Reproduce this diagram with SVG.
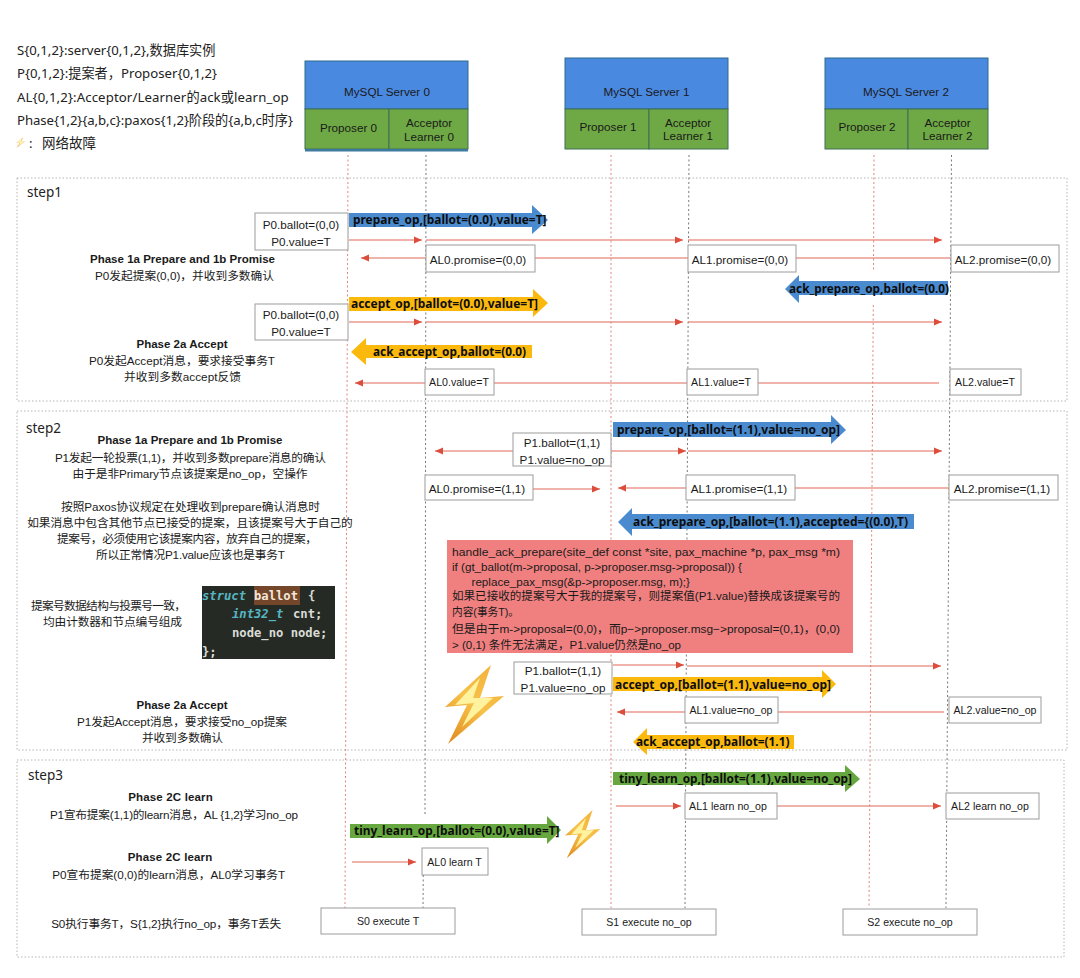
<svg xmlns="http://www.w3.org/2000/svg" width="1080" height="978" viewBox="0 0 1080 978">
<style>
text{font-family:"Liberation Sans","Noto Sans CJK SC",sans-serif;fill:#1a1a1a;font-size:11.7px;dominant-baseline:central}
.m{text-anchor:middle}
.leg{font-family:"Noto Sans","Noto Sans CJK SC",sans-serif;font-size:13.2px;fill:#222}
.step{font-family:"Noto Sans","Noto Sans CJK SC",sans-serif;font-size:13.5px;fill:#222}
.b{font-weight:bold;font-size:11.5px}
.lb{font-family:"Noto Sans","Noto Sans CJK SC",sans-serif;font-weight:bold;font-size:12.8px;fill:#0d0d0d}
.nt{font-size:10.6px}
.hd{fill:#4a89e0;stroke:#2c6a8e;stroke-width:1}
.gr{fill:#6fa945;stroke:#3f6f57;stroke-width:1}
.box{fill:#fff;stroke:#9c9c9c;stroke-width:1}
.frame{fill:none;stroke:#b4b4b4;stroke-width:1;stroke-dasharray:1.5 2}
.lp{stroke:#e0857a;stroke-width:1;stroke-dasharray:2 2.5;fill:none}
.la{stroke:#777;stroke-width:1;stroke-dasharray:2 2.5;fill:none}
.msg{stroke:#e0695a;stroke-width:1.2;fill:none}
.ar{marker-end:url(#tip)}
.blue{fill:#4a8bd0}.gold{fill:#fbb80d}.green{fill:#66a73f}
.code{font-family:"DejaVu Sans Mono",monospace;font-weight:bold;font-size:12.2px;fill:#d9dcd6;dominant-baseline:central}
</style>
<defs>
<marker id="tip" markerUnits="userSpaceOnUse" markerWidth="9" markerHeight="8" refX="8" refY="4" orient="auto"><path d="M0 0.5L8 4L0 7.5Z" fill="#dd4d3c"/></marker>
<linearGradient id="bg" x1="0.8" y1="0" x2="0.2" y2="1"><stop offset="0" stop-color="#f3b23a"/><stop offset="0.5" stop-color="#f7c14a"/><stop offset="1" stop-color="#e39022"/></linearGradient>
<g id="bolt"><polygon points="46,0 0,42 22,40 3,79 59,31 35,33" fill="url(#bg)"/><polygon points="35,13 10,40 29,38 17,62 48,33 28,33" fill="#fff3a0"/></g>
</defs>
<rect width="1080" height="978" fill="#fff"/>

<g id="frames">
<rect class="frame" x="17" y="178" width="1050" height="223"/>
<rect class="frame" x="17" y="411" width="1050" height="339"/>
<rect class="frame" x="17" y="760" width="1047" height="197"/>
</g>

<g id="legend">
<text class="leg" x="17" y="50">S{0,1,2}:server{0,1,2},数据库实例</text>
<text class="leg" x="17" y="73">P{0,1,2}:提案者，Proposer{0,1,2}</text>
<text class="leg" x="17" y="97" textLength="271.600">AL{0,1,2}:Acceptor/Learner的ack或learn_op</text>
<text class="leg" x="17" y="120" textLength="276">Phase{1,2}{a,b,c}:paxos{1,2}阶段的{a,b,c时序}</text>
<use href="#bolt" transform="translate(16,137) scale(0.16,0.14)" opacity="0.65"/>
<text class="leg" x="29" y="143">:</text>
<text class="leg" x="42" y="143" style="font-size:13.5px">网络故障</text>
</g>

<g id="lifelines">
<path class="lp" d="M348 155L345 908"/>
<path class="la" d="M426 155L425 814M423.500 848L423 908"/>
<path class="lp" d="M611 155L611 908"/>
<path class="la" d="M689 155L685 908"/>
<path class="lp" d="M874 155L873.500 272M873.300 305L869 908"/>
<path class="la" d="M951.500 155L946 908"/>
</g>

<g id="server0">
<rect class="hd" x="305" y="61" width="163" height="48"/>
<rect class="gr" x="305" y="109" width="84" height="40"/>
<rect class="gr" x="389" y="109" width="79" height="40"/>
<rect x="305" y="149" width="163" height="2.500" fill="#3e7aa0"/>
<text class="m" x="387" y="91">MySQL Server 0</text>
<text class="m" x="348.500" y="127">Proposer 0</text>
<text class="m" x="429" y="122">Acceptor</text>
<text class="m" x="429" y="136">Learner 0</text>
</g>
<g id="server1">
<rect class="hd" x="565" y="58" width="163" height="51"/>
<rect class="gr" x="565" y="109" width="84" height="40"/>
<rect class="gr" x="649" y="109" width="79" height="40"/>
<text class="m" x="646.500" y="91">MySQL Server 1</text>
<text class="m" x="608" y="126">Proposer 1</text>
<text class="m" x="688" y="122">Acceptor</text>
<text class="m" x="688" y="135">Learner 1</text>
</g>
<g id="server2">
<rect class="hd" x="825" y="58" width="163" height="51"/>
<rect class="gr" x="825" y="109" width="83" height="40"/>
<rect class="gr" x="908" y="109" width="80" height="40"/>
<text class="m" x="906" y="91">MySQL Server 2</text>
<text class="m" x="867" y="126">Proposer 2</text>
<text class="m" x="947.500" y="122">Acceptor</text>
<text class="m" x="947.500" y="135">Learner 2</text>
</g>

<g id="notes">
<text class="step" x="27" y="192">step1</text>
<text class="m b" x="182.500" y="259" textLength="185">Phase 1a Prepare and 1b Promise</text>
<text class="m" x="184.500" y="275" textLength="179">P0发起提案(0,0)，并收到多数确认</text>
<text class="m b" x="182" y="344">Phase 2a Accept</text>
<text class="m" x="182" y="360" textLength="186">P0发起Accept消息，要求接受事务T</text>
<text class="m" x="182.500" y="376" textLength="117">并收到多数accept反馈</text>

<text class="step" x="26" y="428">step2</text>
<text class="m b" x="190" y="440" textLength="185">Phase 1a Prepare and 1b Promise</text>
<text class="m" x="190.500" y="457" textLength="271">P1发起一轮投票(1,1)，并收到多数prepare消息的确认</text>
<text class="m" x="190" y="473" textLength="235">由于是非Primary节点该提案是no_op，空操作</text>
<text class="m" x="190.500" y="506" textLength="259">按照Paxos协议规定在处理收到prepare确认消息时</text>
<text class="m" x="190" y="522" textLength="325.500">如果消息中包含其他节点已接受的提案，且该提案号大于自己的</text>
<text class="m" x="187" y="538" textLength="260">提案号，必须使用它该提案内容，放弃自己的提案，</text>
<text class="m" x="190.500" y="554" textLength="189">所以正常情况P1.value应该也是事务T</text>
<text class="m" x="108.500" y="605" textLength="155">提案号数据结构与投票号一致，</text>
<text class="m" x="112.500" y="621" textLength="139">均由计数器和节点编号组成</text>
<text class="m b" x="182" y="705">Phase 2a Accept</text>
<text class="m" x="182" y="721" textLength="210">P1发起Accept消息，要求接受no_op提案</text>
<text class="m" x="182.500" y="737" textLength="81">并收到多数确认</text>

<text class="step" x="28" y="775">step3</text>
<text class="m b" x="170.500" y="797" textLength="84.500">Phase  2C  learn</text>
<text class="m" x="174" y="814" textLength="248">P1宣布提案(1,1)的learn消息，AL {1,2}学习no_op</text>
<text class="m b" x="170" y="857" textLength="84.500">Phase  2C  learn</text>
<text class="m" x="168.700" y="874" textLength="233">P0宣布提案(0,0)的learn消息，AL0学习事务T</text>
<text class="m" x="166.200" y="923" textLength="230">S0执行事务T，S{1,2}执行no_op，事务T丢失</text>
</g>

<g id="connectors">
<path class="msg ar" d="M349 240H422"/><path class="msg ar" d="M426 240H683"/><path class="msg ar" d="M688 240H942"/>
<path class="msg ar" d="M426 258H361"/><path class="msg" d="M535 258H688M796 258H951"/>
<path class="msg ar" d="M349 322H422"/><path class="msg ar" d="M426 322H683"/><path class="msg ar" d="M688 322H942"/>
<path class="msg ar" d="M425 383H355"/><path class="msg" d="M494 383H687M758 383H939"/>
<path class="msg ar" d="M513 451H435"/><path class="msg ar" d="M611 451H686"/><path class="msg ar" d="M688 451H942"/>
<path class="msg ar" d="M533 489H600"/><path class="msg ar" d="M686 488H618"/><path class="msg" d="M795 488H949"/>
<path class="msg ar" d="M613 665H684"/><path class="msg ar" d="M687 666H941"/>
<path class="msg ar" d="M685 712H617"/><path class="msg" d="M778 712H944"/>
<path class="msg ar" d="M616 806H681"/><path class="msg ar" d="M777 806H941"/>
<path class="msg ar" d="M352 862H416"/>
</g>

<g id="prepare0"><polygon class="blue" points="349,213 532,213 532,205 548,220 532,234 532,227 349,227"/><text class="lb" x="353" y="219" textLength="193.500" lengthAdjust="spacingAndGlyphs">prepare_op,[ballot=(0.0),value=T]</text></g>
<g id="ack_prepare0"><polygon class="blue" points="785,289 799,275 799,281 948,281 948,295 799,295 799,303"/><text class="lb" x="789" y="288" textLength="160" lengthAdjust="spacingAndGlyphs">ack_prepare_op,ballot=(0.0)</text></g>
<g id="accept0"><polygon class="gold" points="349,297 533,297 533,289 548,303 533,317 533,311 349,311"/><text class="lb" x="351" y="303" textLength="187" lengthAdjust="spacingAndGlyphs">accept_op,[ballot=(0.0),value=T]</text></g>
<g id="ack_accept0"><polygon class="gold" points="351,352 366,338 366,345 532,345 532,358 366,358 366,365"/><text class="lb" x="373" y="351" textLength="153" lengthAdjust="spacingAndGlyphs">ack_accept_op,ballot=(0.0)</text></g>
<g id="prepare1"><polygon class="blue" points="613,422 831,422 831,415 846,430 831,444 831,437 613,437"/><text class="lb" x="617" y="429" textLength="223" lengthAdjust="spacingAndGlyphs">prepare_op,[ballot=(1.1),value=no_op]</text></g>
<g id="ack_prepare1"><polygon class="blue" points="618,522 632,508 632,514 914,514 914,529 632,529 632,536"/><text class="lb" x="633" y="521" textLength="275" lengthAdjust="spacingAndGlyphs">ack_prepare_op,[ballot=(1.1),accepted={(0.0),T)</text></g>
<g id="accept1"><polygon class="gold" points="613,677 822,677 822,670 836,684 822,698 822,691 613,691"/><text class="lb" x="615" y="684" textLength="216" lengthAdjust="spacingAndGlyphs">accept_op,[ballot=(1.1),value=no_op]</text></g>
<g id="ack_accept1"><polygon class="gold" points="633,742 647,728 647,735 794,735 794,749 647,749 647,755"/><text class="lb" x="636" y="741" textLength="153.500" lengthAdjust="spacingAndGlyphs">ack_accept_op,ballot=(1.1)</text></g>
<g id="learn1"><polygon class="green" points="613,772 845,772 845,765 860,779 845,792 845,785 613,785"/><text class="lb" x="619" y="778" textLength="233" lengthAdjust="spacingAndGlyphs">tiny_learn_op,[ballot=(1.1),value=no_op]</text></g>
<g id="learn0"><polygon class="green" points="350,824 547,824 547,816 561,830 547,844 547,838 350,838"/><text class="lb" x="354" y="830" textLength="205.500" lengthAdjust="spacingAndGlyphs">tiny_learn_op,[ballot=(0.0),value=T]</text></g>

<g id="p0_state1"><rect class="box" x="255" y="213" width="93" height="37"/><text class="m" x="301" y="224">P0.ballot=(0,0)</text><text class="m" x="301" y="241">P0.value=T</text></g>
<g id="al0_promise0"><rect class="box" x="426" y="245" width="109" height="27"/><text class="m" x="478" y="259">AL0.promise=(0,0)</text></g>
<g id="al1_promise0"><rect class="box" x="688" y="245" width="108" height="27"/><text class="m" x="740" y="259">AL1.promise=(0,0)</text></g>
<g id="al2_promise0"><rect class="box" x="951" y="245" width="108" height="27"/><text class="m" x="1003" y="259">AL2.promise=(0,0)</text></g>
<g id="p0_state2"><rect class="box" x="255" y="304" width="93" height="36"/><text class="m" x="301" y="314">P0.ballot=(0,0)</text><text class="m" x="301" y="331">P0.value=T</text></g>
<g id="al0_value"><rect class="box" x="425" y="369" width="69" height="26"/><text class="m nt" x="459" y="382">AL0.value=T</text></g>
<g id="al1_value"><rect class="box" x="687" y="369" width="71" height="26"/><text class="m nt" x="721" y="382">AL1.value=T</text></g>
<g id="al2_value"><rect class="box" x="950" y="369" width="71" height="26"/><text class="m nt" x="985" y="382">AL2.value=T</text></g>

<g id="p1_state1"><rect class="box" x="513" y="433" width="98" height="33"/><text class="m" x="562" y="442">P1.ballot=(1,1)</text><text class="m" x="562" y="459">P1.value=no_op</text></g>
<g id="al0_promise1"><rect class="box" x="425" y="475" width="108" height="25"/><text class="m" x="477" y="488">AL0.promise=(1,1)</text></g>
<g id="al1_promise1"><rect class="box" x="686" y="475" width="109" height="25"/><text class="m" x="739" y="488">AL1.promise=(1,1)</text></g>
<g id="al2_promise1"><rect class="box" x="949" y="475" width="109" height="25"/><text class="m" x="1002" y="488">AL2.promise=(1,1)</text></g>

<g id="note_handle"><rect x="447" y="540" width="406" height="113" fill="#f08080"/>
<text x="452" y="551" textLength="388" lengthAdjust="spacingAndGlyphs">handle_ack_prepare(site_def const *site, pax_machine *p, pax_msg *m)</text>
<text x="452" y="566" textLength="290" lengthAdjust="spacingAndGlyphs">if (gt_ballot(m-&gt;proposal, p-&gt;proposer.msg-&gt;proposal)) {</text>
<text x="471.500" y="581" textLength="218.500" lengthAdjust="spacingAndGlyphs">replace_pax_msg(&amp;p-&gt;proposer.msg, m);}</text>
<text x="452" y="595" textLength="388" lengthAdjust="spacingAndGlyphs">如果已接收的提案号大于我的提案号，则提案值(P1.value)替换成该提案号的</text>
<text x="452" y="611" textLength="67" lengthAdjust="spacingAndGlyphs">内容(事务T)。</text>
<text x="452" y="628" textLength="388" lengthAdjust="spacingAndGlyphs">但是由于m-&gt;proposal=(0,0)，而p−&gt;proposer.msg−&gt;proposal=(0,1)，(0,0)</text>
<text x="452" y="644" textLength="229" lengthAdjust="spacingAndGlyphs">&gt; (0,1) 条件无法满足，P1.value仍然是no_op</text>
</g>

<g id="code_ballot"><rect x="202" y="586" width="133" height="73" fill="#262a25"/><rect x="254" y="586" width="46" height="19" fill="#74462a"/>
<text class="code" x="202" y="596" style="font-style:italic;fill:#56b6c2">struct</text><text class="code" x="254" y="596" style="fill:#f2e6da">ballot</text><text class="code" x="308" y="596">{</text>
<text class="code" x="232" y="614" style="font-style:italic;fill:#56b6c2">int32_t</text><text class="code" x="293" y="614">cnt;</text>
<text class="code" x="232" y="633">node_no node;</text>
<text class="code" x="202" y="652">};</text></g>

<g id="p1_state2"><rect class="box" x="514" y="662" width="98" height="32"/><text class="m" x="563" y="670">P1.ballot=(1,1)</text><text class="m" x="563" y="687">P1.value=no_op</text></g>
<g id="bolt_big"><use href="#bolt" transform="translate(445,665)"/></g>
<g id="al1_noop"><rect class="box" x="685" y="697" width="93" height="26"/><text class="m nt" x="731" y="710" textLength="83">AL1.value=no_op</text></g>
<g id="al2_noop"><rect class="box" x="949" y="697" width="92" height="26"/><text class="m nt" x="995" y="710" textLength="83">AL2.value=no_op</text></g>

<g id="al1_learn"><rect class="box" x="685" y="793" width="92" height="26"/><text class="m nt" x="728" y="806">AL1 learn no_op</text></g>
<g id="al2_learn"><rect class="box" x="946" y="793" width="93" height="26"/><text class="m nt" x="990" y="806">AL2 learn no_op</text></g>
<g id="bolt_small"><use href="#bolt" transform="translate(565,810) scale(0.6,0.61)"/></g>
<g id="al0_learn"><rect class="box" x="422" y="848" width="66" height="27"/><text class="m nt" x="454.500" y="862">AL0 learn T</text></g>
<g id="s0_exec"><rect class="box" x="321" y="908" width="134" height="26"/><text class="m nt" x="388" y="921">S0 execute T</text></g>
<g id="s1_exec"><rect class="box" x="582" y="909" width="134" height="26"/><text class="m nt" x="649" y="922">S1 execute no_op</text></g>
<g id="s2_exec"><rect class="box" x="843" y="909" width="134" height="26"/><text class="m nt" x="910" y="922">S2 execute no_op</text></g>
</svg>
